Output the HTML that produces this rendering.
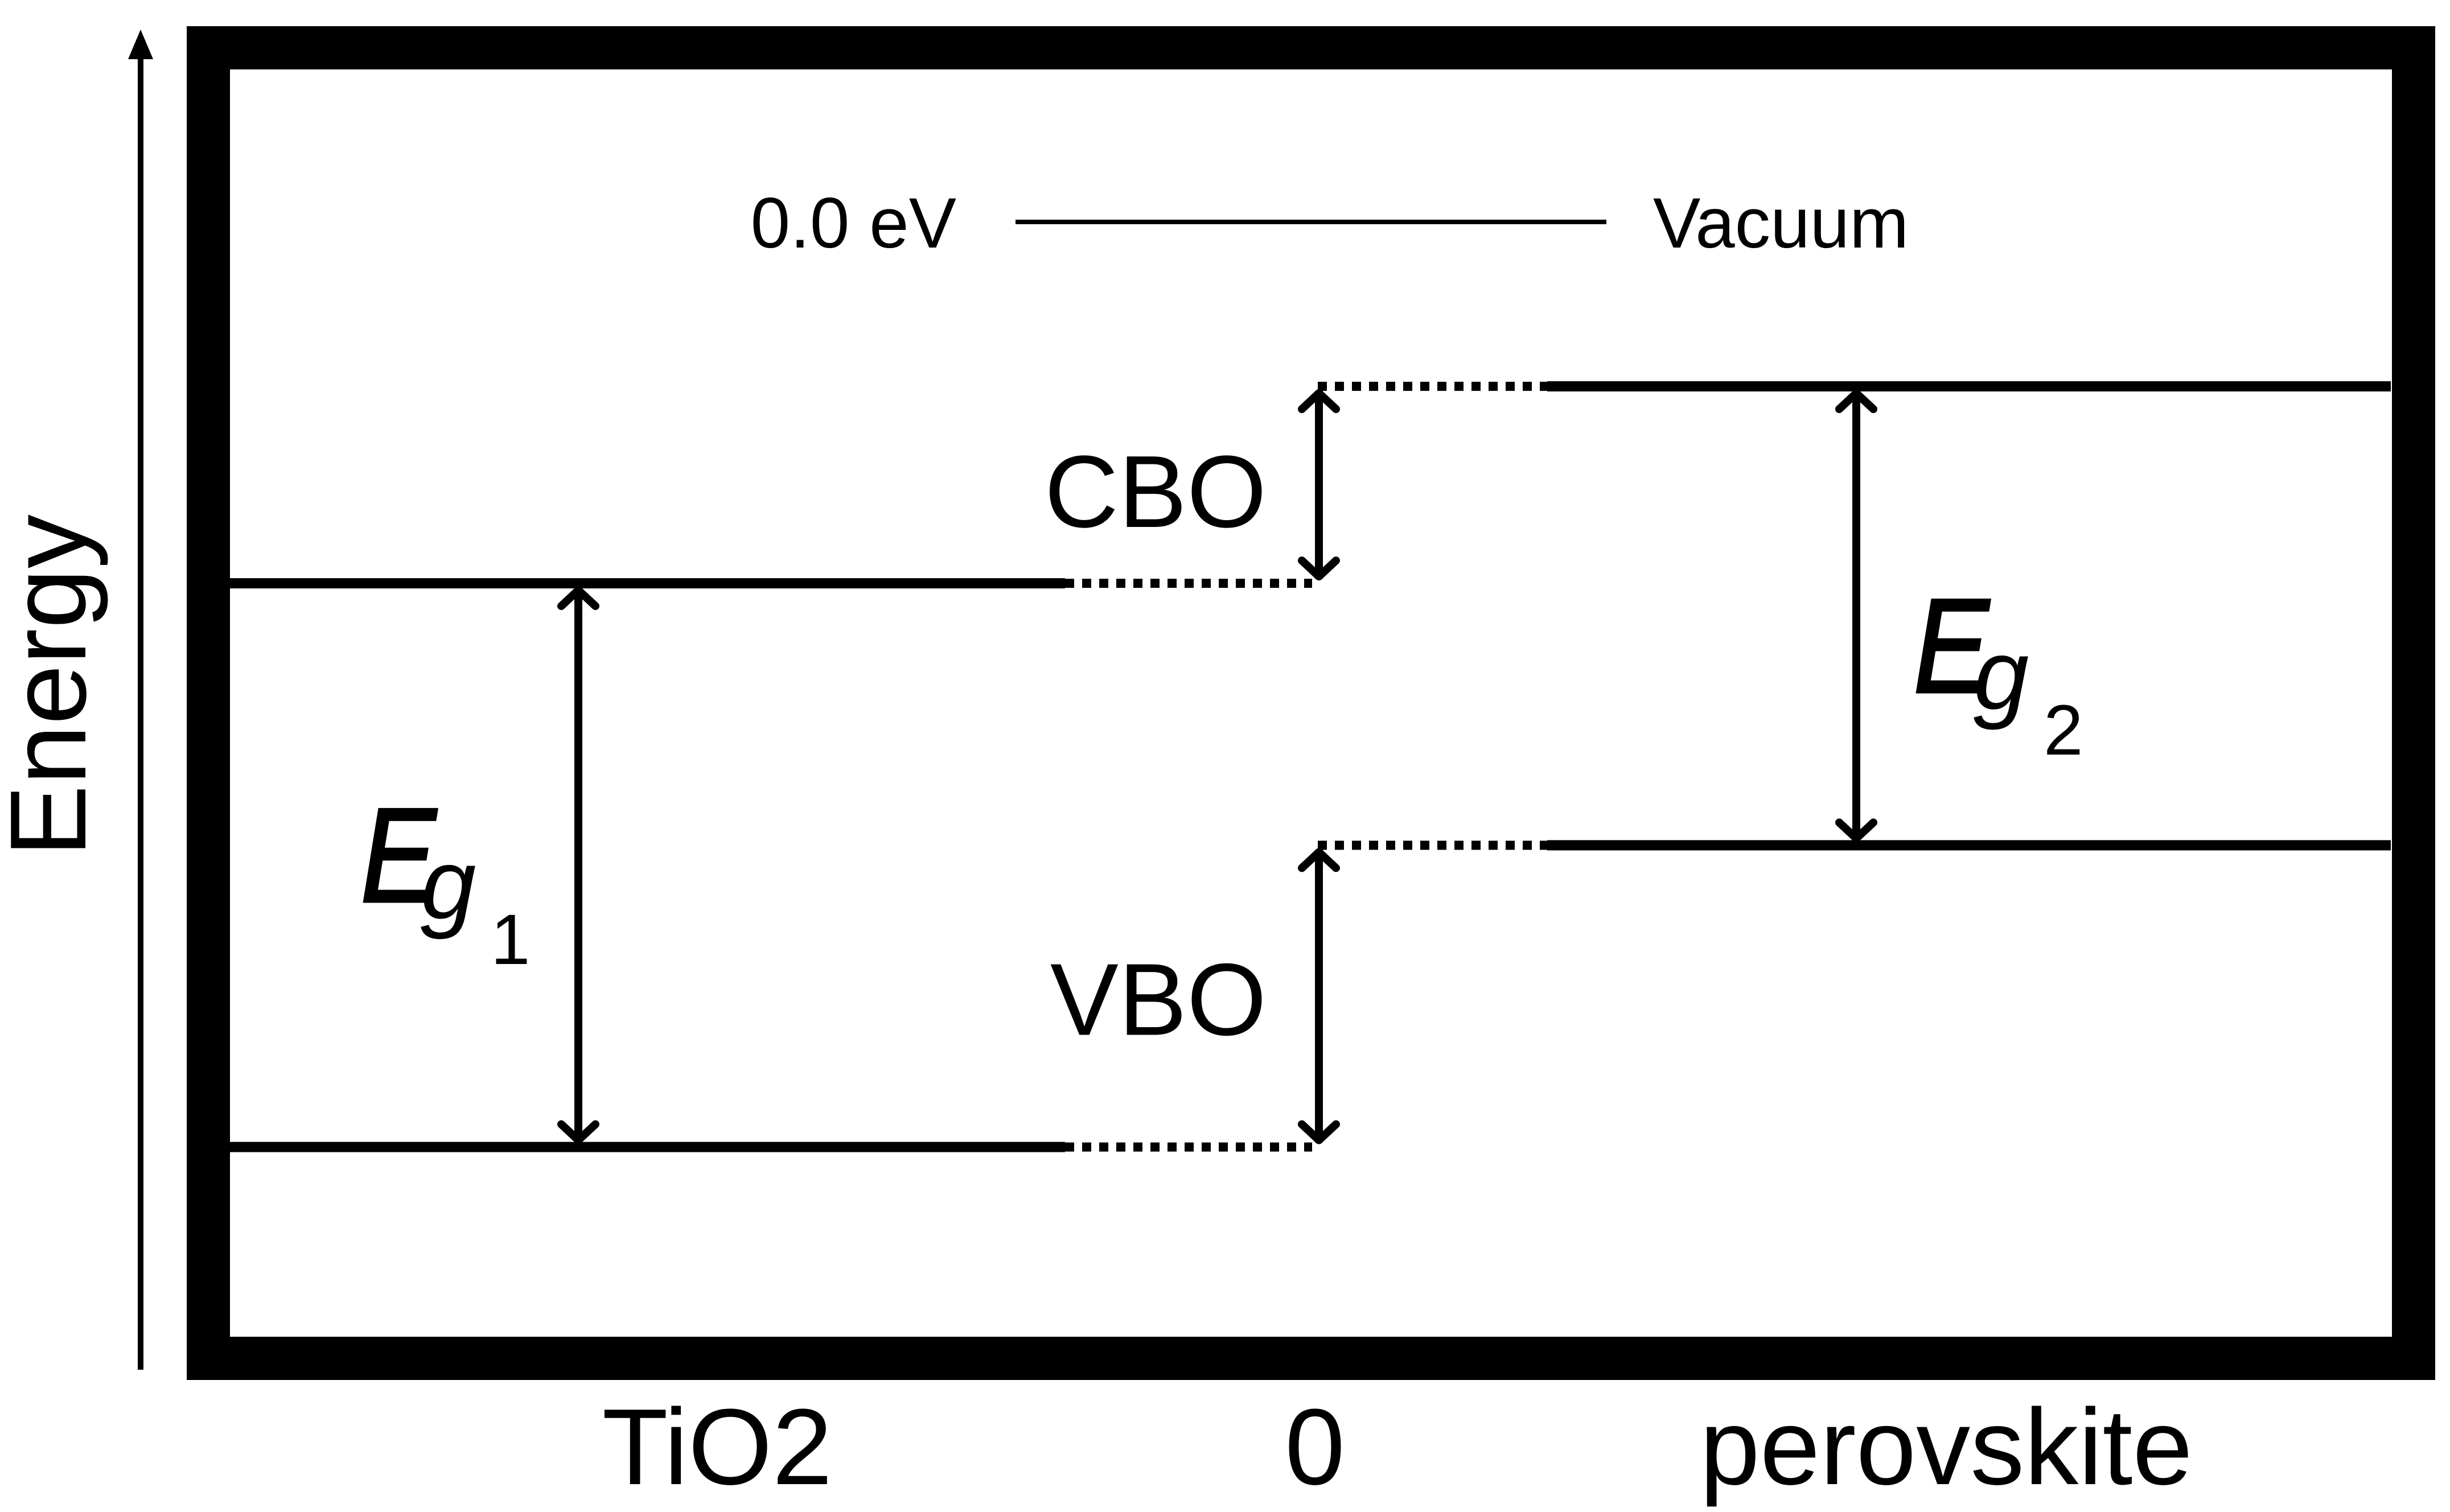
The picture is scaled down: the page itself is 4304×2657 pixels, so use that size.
<!DOCTYPE html>
<html><head><meta charset="utf-8"><style>
html,body{margin:0;padding:0;background:#fff;}
svg{display:block;font-family:"Liberation Sans","DejaVu Sans",sans-serif;}
</style></head><body>
<svg id="chart" width="4304" height="2657" viewBox="0 0 4304 2657" xmlns="http://www.w3.org/2000/svg">
<rect x="0" y="0" width="4304" height="2657" fill="#fff"/>
<rect x="366" y="84" width="3874" height="2303" fill="none" stroke="#000" stroke-width="76"/>
<g>
<line x1="247" y1="2407" x2="247" y2="80" stroke="#000" stroke-width="10"/>
<polygon points="247,52 225,104 269,104" fill="#000"/>
</g>
<text transform="translate(150,1205) rotate(-90)" text-anchor="middle" font-size="190" font-weight="300" fill="#000">Energy</text>
<g id="levels"></g>
<text x="1260" y="2608" text-anchor="middle" font-size="190" fill="#000">TiO2</text>
<text x="2310" y="2608" text-anchor="middle" font-size="190" fill="#000">0</text>
<text x="3419" y="2608" text-anchor="middle" font-size="190" fill="#000">perovskite</text>
</svg>
<script>
const vacuumEnergy = [0.0];
const tio2Levels = [-4.0, -10.24];      // CB, VB (eV, diagram scale)
const perovskiteLevels = [-1.82, -6.90]; // CB, VB
const vacuumLabels = ["0.0 eV", "Vacuum"];
const offsetLabels = ["CBO", "VBO"];

const NS = "http://www.w3.org/2000/svg";
const g = document.getElementById('levels');
const yScale = e => 390 - e * 158.75;
function mk(tag, attrs, parent) {
  const el = document.createElementNS(NS, tag);
  for (const k in attrs) el.setAttribute(k, attrs[k]);
  (parent || g).appendChild(el);
  return el;
}
function vArrow(x, y1, y2, name) {
  const a = mk('g', {});
  
  
  mk('line', {x1: x, y1: y1 + 8, x2: x, y2: y2 - 8, stroke: '#000', 'stroke-width': 14}, a);
  mk('polyline', {points: `${x-30},${y1+40} ${x},${y1+12} ${x+30},${y1+40}`, fill: 'none', stroke: '#000', 'stroke-width': 14, 'stroke-linecap': 'round', 'stroke-linejoin': 'round'}, a);
  mk('polyline', {points: `${x-30},${y2-40} ${x},${y2-12} ${x+30},${y2-40}`, fill: 'none', stroke: '#000', 'stroke-width': 14, 'stroke-linecap': 'round', 'stroke-linejoin': 'round'}, a);
}
function txt(x, y, s, size, name, extra, parent) {
  const t = mk('text', Object.assign({x: x, y: y, 'font-size': size, fill: '#000'}, extra || {}), parent);
  t.textContent = s;
  
  
  return t;
}

const yv = yScale(vacuumEnergy[0]);
const vl = mk('line', {x1: 1784, y1: yv, x2: 2822, y2: yv, stroke: '#000', 'stroke-width': 8});


txt(1680, yv + 45, vacuumLabels[0], 125, 'vacuum-energy-label', {'text-anchor': 'end', 'font-weight': '300'});
txt(2904, yv + 45, vacuumLabels[1], 125, 'vacuum-label', {'font-weight': '300'});

const names = ['cb', 'vb'];
tio2Levels.forEach((e, i) => {
  const y = yScale(e);
  const s = mk('line', {x1: 403, y1: y, x2: 1871, y2: y, stroke: '#000', 'stroke-width': 18});
  
  
  const d = mk('line', {x1: 1871, y1: y, x2: 2305, y2: y, stroke: '#000', 'stroke-width': 16, 'stroke-dasharray': '16 14'});
  
  
});
perovskiteLevels.forEach((e, i) => {
  const y = yScale(e);
  const d = mk('line', {x1: 2315, y1: y, x2: 2718, y2: y, stroke: '#000', 'stroke-width': 16, 'stroke-dasharray': '16 14'});
  
  
  const s = mk('line', {x1: 2718, y1: y, x2: 4200, y2: y, stroke: '#000', 'stroke-width': 18});
  
  
});

vArrow(2317, yScale(perovskiteLevels[0]), yScale(tio2Levels[0]), 'cbo-arrow');
vArrow(2317, yScale(perovskiteLevels[1]), yScale(tio2Levels[1]), 'vbo-arrow');
const cboMid = (yScale(perovskiteLevels[0]) + yScale(tio2Levels[0])) / 2;
const vboMid = (yScale(perovskiteLevels[1]) + yScale(tio2Levels[1])) / 2;
txt(2225, cboMid + 74, offsetLabels[0], 180, 'cbo-label', {'text-anchor': 'end'});
txt(2225, vboMid + 68, offsetLabels[1], 180, 'vbo-label', {'text-anchor': 'end'});

vArrow(1016, yScale(tio2Levels[0]), yScale(tio2Levels[1]), 'eg1-arrow');
vArrow(3261, yScale(perovskiteLevels[0]), yScale(perovskiteLevels[1]), 'eg2-arrow');
function eg(x, base, sub, name) {
  const grp = mk('g', {});
  
  
  txt(0, 0, 'E', 235, name + '-e', {'font-style': 'italic', stroke: '#000', 'stroke-width': 5, transform: `translate(${x},${base}) scale(0.84,1)`}, grp);
  txt(x + 105, base + 30, 'g', 175, name + '-g', {'font-style': 'italic'}, grp);
  txt(x + 228, base + 110, sub, 125, name + '-subscript', {'font-weight': '300'}, grp);
}
eg(634, 1584, '1', 'eg1-label');
eg(3362, 1216, '2', 'eg2-label');
</script>
</body></html>
